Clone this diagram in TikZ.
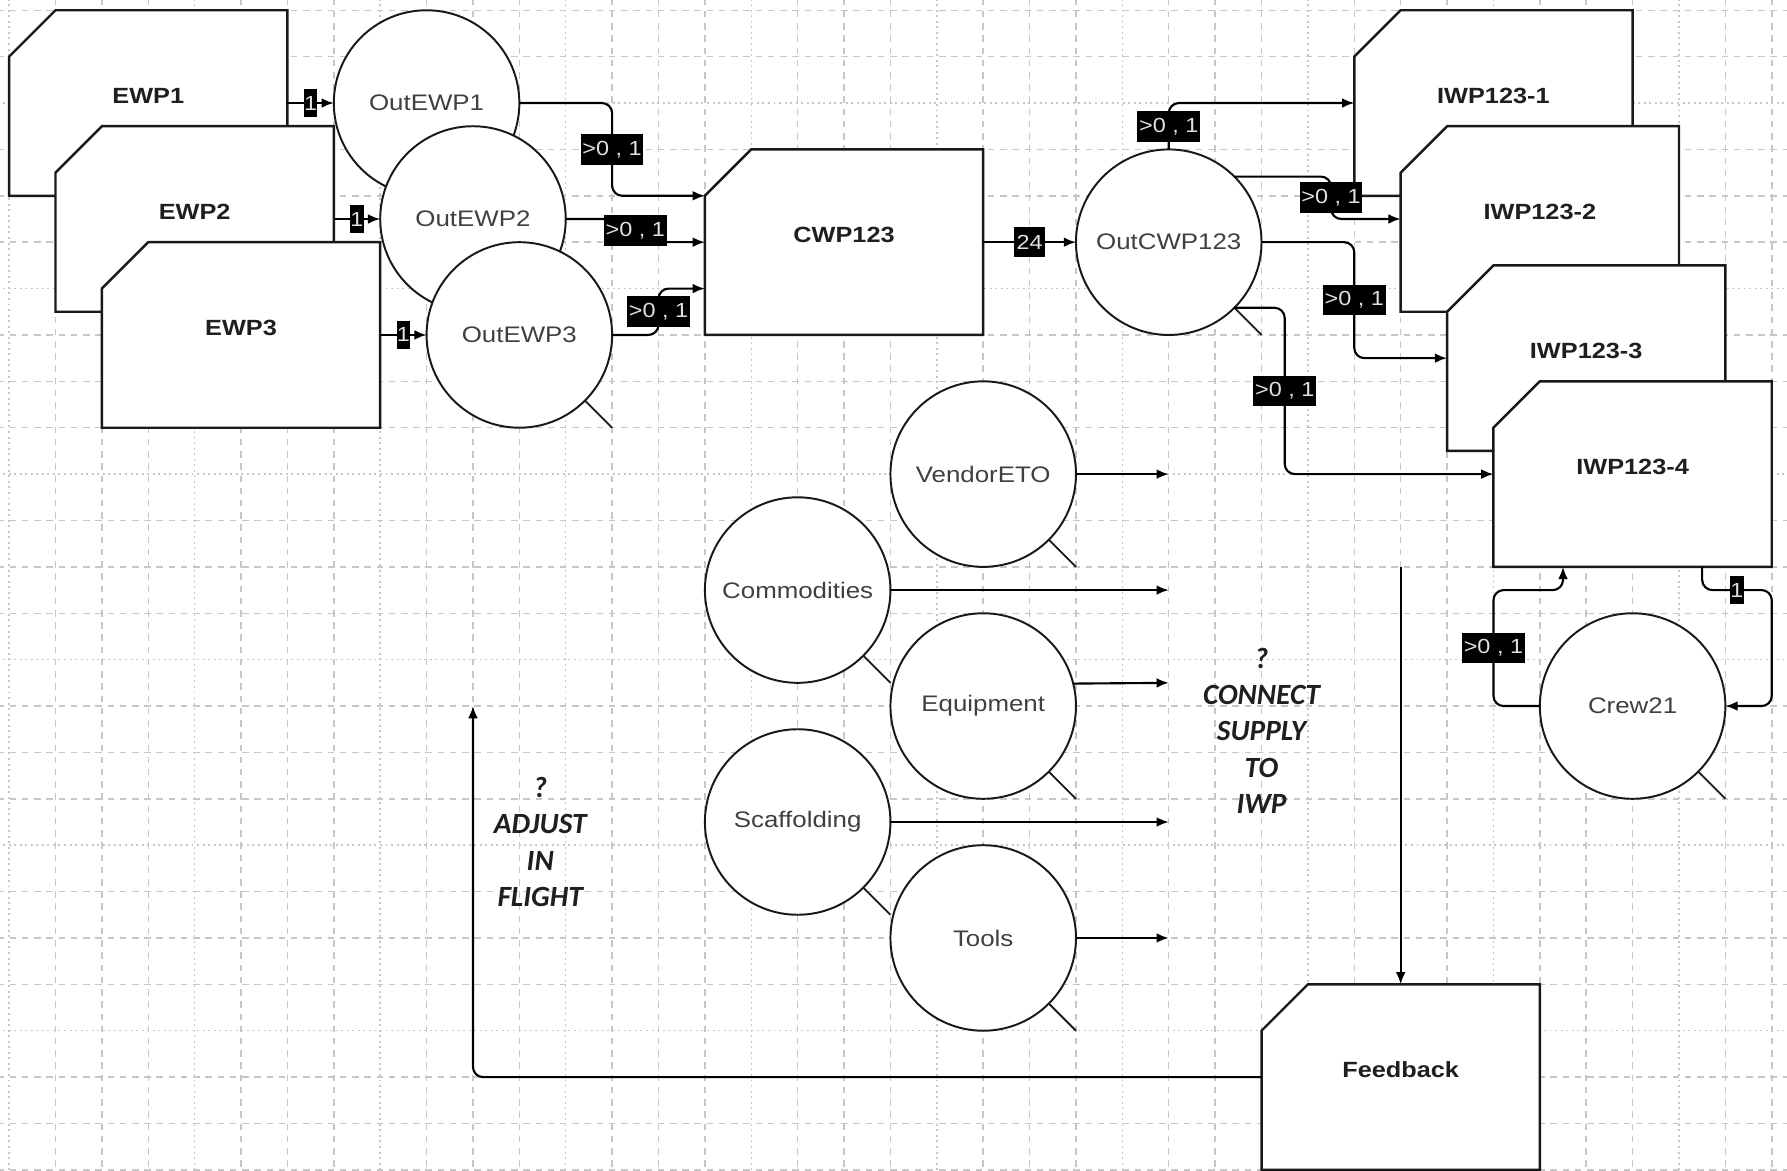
\documentclass[tikz,border=0pt]{standalone}
\usepackage{fontspec}
\setmainfont{Liberation Sans}[FakeStretch=1.15]
\newfontfamily\notefont{Carlito}
\usetikzlibrary{arrows.meta}

% frame of a work package: rectangle with its top-left corner cut off
\newcommand\workbox[3]{%
  \node[boxframe] (#1) at (#2) {};
  \filldraw[boxline] (#1.south west) -- ([yshift=-1cm]#1.north west)
    -- ([xshift=1cm]#1.north west) -- (#1.north east) -- (#1.south east) -- cycle;
  \node[boxtitle] (#1-title) at ([yshift=0.16cm]#1.center) {#3};
}
% stock circle with its short tail at the lower right
\newcommand\stockcircle[3]{%
  \node[stock] (#1) at (#2) {#3};
  \draw[tail] (#1.south east) -- ([xshift=2cm,yshift=-2cm]#1.center);
}

\tikzset{
  gridline/.style={draw=black!22, line width=0.9pt, dash pattern=on 4pt off 3.5pt},
  gridfine/.style={draw=black!22, line width=0.9pt, dash pattern=on 1.2pt off 2.2pt},
  boxframe/.style={rectangle, minimum width=6cm, minimum height=4cm, inner sep=0pt, outer sep=0pt},
  boxline/.style={draw=black!90, fill=white, line width=1.5pt, line join=miter},
  boxtitle/.style={inner sep=0pt, text=black!88, font=\bfseries\fontsize{13.5}{16}\selectfont},
  stock/.style={circle, draw=black!90, fill=white, line width=1.2pt, minimum size=4cm,
    inner sep=0pt, outer sep=0pt, text=black!75, font=\fontsize{13.8}{16}\selectfont},
  tail/.style={draw=black!90, line width=1.1pt},
  flow/.style={draw=black, line width=1.3pt, rounded corners=0.22cm,
    -{Latex[length=7.5pt,width=6pt]}},
  cnt/.style={rectangle, sharp corners, fill=black, draw=none, text=white!88!black,
    inner xsep=1pt, inner ysep=0pt, minimum height=0.66cm,
    font=\fontsize{12.5}{14}\selectfont},
  one/.style={cnt, inner xsep=0pt, minimum width=0.27cm, minimum height=0.6cm},
  note/.style={align=center, inner sep=0pt, text=black!88,
    font=\notefont\bfseries\itshape\fontsize{18}{22.3}\selectfont},
}

\begin{document}
\begin{tikzpicture}[x=1cm, y=-1cm]
\useasboundingbox (-0.1966,-0.2211) rectangle (38.329,25.012);
\fill[white] (-0.1966,-0.2211) rectangle (38.329,25.012);

% background grid
\foreach \i in {0,...,38}{
  \pgfmathtruncatemacro\gm{mod(\i,4)}
  \ifnum\gm=0 \draw[gridfine] (\i,-0.25) -- (\i,25.05);
  \else \draw[gridline] (\i,-0.25) -- (\i,25.05); \fi
}
\foreach \j in {0,...,25}{
  \pgfmathtruncatemacro\gm{mod(\j,4)}
  \ifnum\gm=2 \draw[gridfine] (-0.25,\j) -- (38.4,\j);
  \else \draw[gridline] (-0.25,\j) -- (38.4,\j); \fi
}

% engineering work packages and their outputs
\workbox{ewp1}{3,2}{EWP1}
\workbox{ewp2}{4,4.5}{EWP2}
\workbox{ewp3}{5,7}{EWP3}
\stockcircle{oe1}{9,2}{OutEWP1}
\stockcircle{oe2}{10,4.5}{OutEWP2}
\stockcircle{oe3}{11,7}{OutEWP3}

% construction work package
\workbox{cwp}{18,5}{CWP123}
\stockcircle{ocwp}{25,5}{OutCWP123}

% installation work packages
\workbox{iwp1}{32,2}{IWP123-1}
\workbox{iwp2}{33,4.5}{IWP123-2}
\workbox{iwp3}{34,7.5}{IWP123-3}
\workbox{iwp4}{35,10}{IWP123-4}

% supplies
\stockcircle{ven}{21,10}{VendorETO}
\stockcircle{com}{17,12.5}{Commodities}
\stockcircle{eq}{21,15}{Equipment}
\stockcircle{scf}{17,17.5}{Scaffolding}
\stockcircle{tools}{21,20}{Tools}

% crew and feedback
\stockcircle{crew}{35,15}{Crew21}
\workbox{fb}{30,23}{Feedback}

% notes
\node[note] (adjust-note) at (11.45,17.93) {?\\ADJUST\\IN\\FLIGHT};
\node[note] (connect-note) at (27,15.53) {?\\CONNECT\\SUPPLY\\TO\\IWP};

% loose ends
\coordinate (ven-end) at (25,10);
\coordinate (com-end) at (25,12.5);
\coordinate (eq-end) at (25,14.5);
\coordinate (scf-end) at (25,17.5);
\coordinate (tools-end) at (25,20);
\coordinate (fb-start) at (30,12);
\coordinate (adjust-end) at (10,15);

% EWP -> outputs
\draw[flow] (ewp1.east |- oe1.west) -- node[one] (n1) {1} (oe1.west);
\draw[flow] (ewp2.east |- oe2.west) -- node[one] (n2) {1} (oe2.west);
\draw[flow] (ewp3.east |- oe3.west) -- node[one] (n3) {1} (oe3.west);

% outputs -> CWP
\draw[flow] (oe1.east) -| node[cnt,pos=.75] (n4) {>0 , 1} (13,4) -- (cwp.west |- 0,4);
\draw[flow] (oe2.east) -| node[cnt,pos=.75] (n5) {>0 , 1} (13.5,5) -- (cwp.west);
\draw[flow] (oe3.east) -| node[cnt,pos=.75] (n6) {>0 , 1} (14,6) -- (cwp.west |- 0,6);

% CWP -> output
\draw[flow] (cwp.east) -- node[cnt, inner xsep=1.5pt] (n7) {24} (ocwp.west);

% output -> IWPs
\draw[flow] (ocwp.north) |- node[cnt,pos=.25] (n8) {>0 , 1} (iwp1.west);
\draw[flow] (ocwp.north east) -| node[cnt,pos=.75] (n9) {>0 , 1} (28.5,4.5) -- (iwp2.west);
\draw[flow] (ocwp.east) -| node[cnt,pos=.75] (n10) {>0 , 1} (29,7.5) -- (iwp3.west);
\draw[flow] (ocwp.south east) -| node[cnt,pos=.75] (n11) {>0 , 1} (27.5,10) -- (iwp4.west);

% crew loop
\draw[flow] (crew.west) -| node[cnt,pos=.75] (n12) {>0 , 1} (32,12.5) -| ([xshift=1.5cm]iwp4.south west);
\draw[flow] ([xshift=4.5cm]iwp4.south west) |- node[one,pos=.75,minimum width=0.32cm] (n13) {1} (38,12.5) |- (crew.east);

% supply outputs
\draw[flow] (ven.east) -- (ven-end);
\draw[flow] (com.east) -- (com-end);
\draw[flow] (eq.14.48) -- (eq-end);
\draw[flow] (scf.east) -- (scf-end);
\draw[flow] (tools.east) -- (tools-end);

% feedback
\draw[flow] (fb-start) -- (fb.north);
\draw[flow] (fb.west) -| (adjust-end);
\end{tikzpicture}
\end{document}
